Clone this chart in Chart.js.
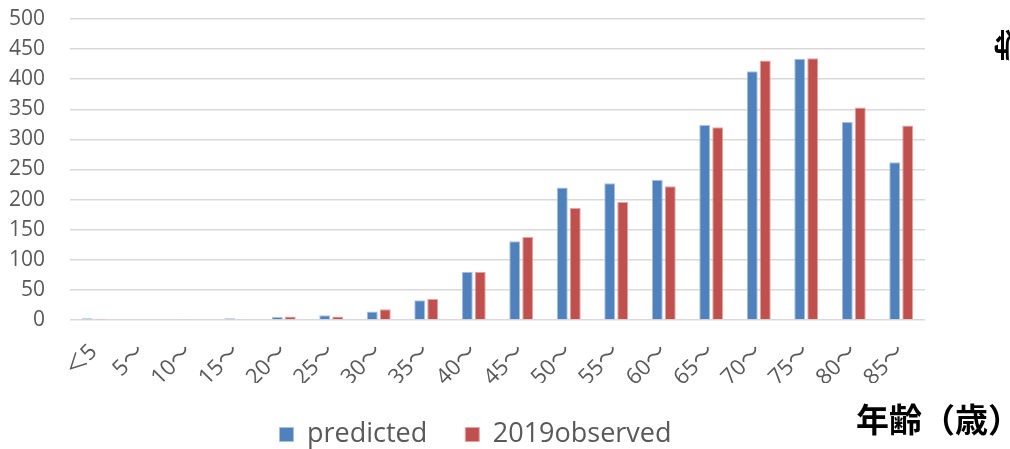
<!DOCTYPE html>
<html>
<head>
<meta charset="utf-8">
<script src="https://cdn.jsdelivr.net/npm/chart.js@4.4.1/dist/chart.umd.min.js"></script>
<style>
  html, body { margin: 0; padding: 0; background: #ffffff; }
  #wrap { width: 1010px; height: 449px; position: relative; }
</style>
</head>
<body>
<div id="wrap"><canvas id="chart" width="1010" height="449"></canvas></div>
<script>
// Age groups (years)
const ageGroups = ['＜5', '5〜', '10〜', '15〜', '20〜', '25〜', '30〜', '35〜', '40〜',
                   '45〜', '50〜', '55〜', '60〜', '65〜', '70〜', '75〜', '80〜', '85〜'];

// Counts per age group
const predicted    = [3, 0, 1, 3, 5, 8, 14, 33, 80, 131, 220, 227, 233, 324, 413, 434, 329, 262];
const observed2019 = [2, 0, 0, 1, 6, 6, 18, 35, 80, 138, 186, 196, 222, 320, 431, 435, 353, 323];

// Value axis
const yMin = 0;
const yMax = 500;
const yStep = 50;

const seriesNames = ['predicted', '2019observed'];
const xAxisTitle = '年齢（歳）';
const yAxisTitle = '導';

const FONT = '"Open Sans", "Noto Sans CJK JP", sans-serif';
const TEXT = '#595959';

// Fixed box sizes for the x axis band and the legend band
const X_BAND = 63;
const LEGEND_BAND = 66;
const LEGEND_SHIFT = 13;

// Axis titles drawn outside the plot area
const axisTitles = {
  id: 'axisTitles',
  afterDraw(chart) {
    const ctx = chart.ctx;
    ctx.save();
    ctx.fillStyle = '#000000';
    ctx.font = 'bold 33px "Noto Sans CJK JP", sans-serif';
    ctx.textAlign = 'right';
    ctx.textBaseline = 'middle';
    ctx.fillText(xAxisTitle, 1021, 419);
    ctx.translate(1011, 45);
    ctx.rotate(Math.PI / 2);
    ctx.textAlign = 'center';
    ctx.fillText(yAxisTitle, 0, 0);
    ctx.restore();
  }
};

// Keeps the legend band at a fixed height and nudges it sideways
const legendBand = {
  id: 'legendBand',
  beforeLayout(chart) {
    const lg = chart.legend;
    if (!lg || lg._banded) return;
    const fit = lg.fit.bind(lg);
    lg.fit = function () { fit(); this.height = LEGEND_BAND; };
    const draw = lg.draw.bind(lg);
    lg.draw = function (area) {
      const ctx = chart.ctx;
      ctx.save();
      ctx.translate(LEGEND_SHIFT, 0);
      draw(area);
      ctx.restore();
    };
    lg._banded = true;
  }
};

new Chart(document.getElementById('chart'), {
  type: 'bar',
  data: {
    labels: ageGroups,
    datasets: [
      {
        label: seriesNames[0],
        data: predicted,
        backgroundColor: '#4F81BD',
        borderColor: '#A9C1E0',
        borderWidth: 1,
        barPercentage: 0.846,
        categoryPercentage: 0.547
      },
      {
        label: seriesNames[1],
        data: observed2019,
        backgroundColor: '#C0504D',
        borderColor: '#E3A5A3',
        borderWidth: 1,
        barPercentage: 0.846,
        categoryPercentage: 0.547
      }
    ]
  },
  options: {
    responsive: false,
    maintainAspectRatio: false,
    animation: false,
    devicePixelRatio: 1,
    layout: { autoPadding: false, padding: { left: 0, right: 85, top: 19, bottom: 0 } },
    plugins: {
      tooltip: { enabled: false },
      legend: {
        position: 'bottom',
        labels: {
          boxWidth: 14,
          boxHeight: 14,
          padding: 38,
          color: TEXT,
          font: { family: FONT, size: 27 }
        }
      }
    },
    scales: {
      x: {
        grid: { display: false },
        border: { display: false },
        ticks: {
          color: TEXT,
          font: { family: FONT, size: 22 },
          minRotation: 45,
          maxRotation: 45,
          padding: 11
        },
        afterFit(scale) {
          scale.height = X_BAND;
          scale.paddingLeft = 0;
          scale.paddingRight = 0;
        }
      },
      y: {
        min: yMin,
        max: yMax,
        grid: { color: '#D9D9D9', lineWidth: 1.5, drawTicks: false },
        border: { display: false },
        ticks: {
          stepSize: yStep,
          color: TEXT,
          font: { family: FONT, size: 21 },
          padding: 25
        },
        afterFit(scale) {
          scale.width = 70;
          scale.paddingTop = 0;
          scale.paddingBottom = 0;
        }
      }
    }
  },
  plugins: [legendBand, axisTitles]
});
</script>
</body>
</html>
